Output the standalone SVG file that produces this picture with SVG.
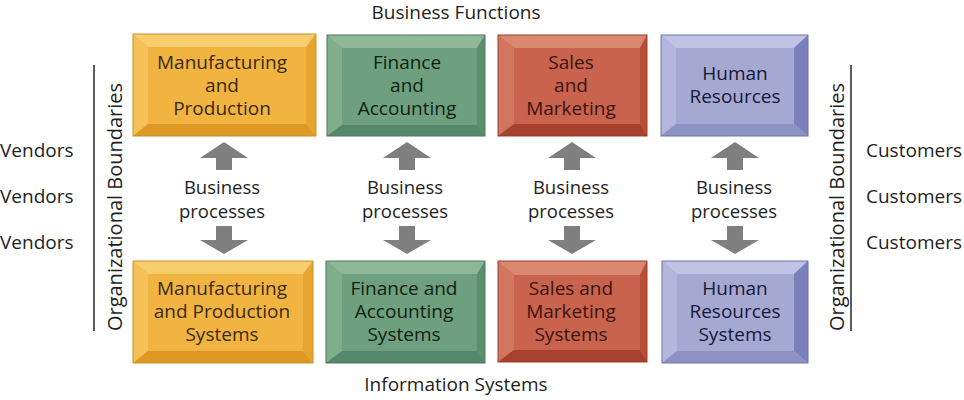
<svg xmlns="http://www.w3.org/2000/svg" width="964" height="400" viewBox="0 0 964 400">
<style>
text{font-family:"Open Sans","Noto Sans","DejaVu Sans",sans-serif;}
.lbl{font-size:19px;fill:#1e1e1e;}
.rot{font-size:20px;fill:#1e1e1e;}
.bx{font-size:19px;text-anchor:middle;}
.bp{font-size:18.5px;fill:#1e1e1e;text-anchor:middle;}
.arr{fill:#7f7f7f;}
.bline{stroke:#333;stroke-width:1.6;}
</style>
<rect width="964" height="400" fill="#ffffff"/>
<text class="lbl" x="456" y="19" text-anchor="middle">Business Functions</text>
<text class="lbl" x="456" y="391" text-anchor="middle">Information Systems</text>

<g id="left-boundary">
<line class="bline" x1="94" y1="65" x2="94" y2="331"/>
<text class="rot" transform="translate(122,207) rotate(-90)" text-anchor="middle">Organizational Boundaries</text>
<text class="lbl" x="0" y="157">Vendors</text>
<text class="lbl" x="0" y="203">Vendors</text>
<text class="lbl" x="0" y="249">Vendors</text>
</g>
<g id="right-boundary">
<line class="bline" x1="851" y1="65" x2="851" y2="331"/>
<text class="rot" transform="translate(844,207) rotate(-90)" text-anchor="middle">Organizational Boundaries</text>
<text class="lbl" x="866" y="157">Customers</text>
<text class="lbl" x="866" y="203">Customers</text>
<text class="lbl" x="866" y="249">Customers</text>
</g>

<!-- Top row -->
<g id="mfg">
<rect x="133" y="34" width="183" height="102" fill="#F2B440"/>
<polygon points="133,34 316,34 306,47 148,47" fill="#F8CD6E"/>
<polygon points="133,34 148,47 148,124 133,136" fill="#F5C158"/>
<polygon points="316,34 316,136 306,124 306,47" fill="#E6A530"/>
<polygon points="133,136 316,136 306,124 148,124" fill="#DE9826"/>
<rect x="133" y="34" width="183" height="102" fill="none" stroke="#C8922A" stroke-width="1"/>
<text class="bx" fill="#3a2a08"><tspan x="222" y="69">Manufacturing</tspan><tspan x="222" y="92">and</tspan><tspan x="222" y="115">Production</tspan></text>
</g>
<g id="fin">
<rect x="327" y="35" width="158" height="101" fill="#6E9F7E"/>
<polygon points="327,35 485,35 477,48 342,48" fill="#8EB898"/>
<polygon points="327,35 342,48 342,125 327,136" fill="#80AE8B"/>
<polygon points="485,35 485,136 477,125 477,48" fill="#5C8F6E"/>
<polygon points="327,136 485,136 477,125 342,125" fill="#55886A"/>
<rect x="327" y="35" width="158" height="101" fill="none" stroke="#4C7A5C" stroke-width="1"/>
<text class="bx" fill="#0f1f12"><tspan x="407" y="69">Finance</tspan><tspan x="407" y="92">and</tspan><tspan x="407" y="115">Accounting</tspan></text>
</g>
<g id="sales">
<rect x="498" y="35" width="149" height="101" fill="#C9634D"/>
<polygon points="498,35 647,35 640,48 514,48" fill="#DA876F"/>
<polygon points="498,35 514,48 514,124 498,136" fill="#D27561"/>
<polygon points="647,35 647,136 640,124 640,48" fill="#B84E3A"/>
<polygon points="498,136 647,136 640,124 514,124" fill="#A8402E"/>
<rect x="498" y="35" width="149" height="101" fill="none" stroke="#9A3F2E" stroke-width="1"/>
<text class="bx" fill="#3a1410"><tspan x="571" y="69">Sales</tspan><tspan x="571" y="92">and</tspan><tspan x="571" y="115">Marketing</tspan></text>
</g>
<g id="hr">
<rect x="661" y="35" width="147" height="101" fill="#A5A9D2"/>
<polygon points="661,35 808,35 794,48 676,48" fill="#C0C3E3"/>
<polygon points="661,35 676,48 676,124 661,136" fill="#B4B7DB"/>
<polygon points="808,35 808,136 794,124 794,48" fill="#7B80BD"/>
<polygon points="661,136 808,136 794,124 676,124" fill="#8D92C4"/>
<rect x="661" y="35" width="147" height="101" fill="none" stroke="#6F74A8" stroke-width="1"/>
<text class="bx" fill="#161a38"><tspan x="735" y="80">Human</tspan><tspan x="735" y="103">Resources</tspan></text>
</g>

<!-- Bottom row -->
<g id="mfg-sys">
<rect x="133" y="261" width="180" height="102" fill="#F2B440"/>
<polygon points="133,261 313,261 303,274 148,274" fill="#F8CD6E"/>
<polygon points="133,261 148,274 148,351 133,363" fill="#F5C158"/>
<polygon points="313,261 313,363 303,351 303,274" fill="#E6A530"/>
<polygon points="133,363 313,363 303,351 148,351" fill="#DE9826"/>
<rect x="133" y="261" width="180" height="102" fill="none" stroke="#C8922A" stroke-width="1"/>
<text class="bx" fill="#3a2a08"><tspan x="222" y="295">Manufacturing</tspan><tspan x="222" y="318">and Production</tspan><tspan x="222" y="341">Systems</tspan></text>
</g>
<g id="fin-sys">
<rect x="326" y="261" width="159" height="102" fill="#6E9F7E"/>
<polygon points="326,261 485,261 477,274 342,274" fill="#8EB898"/>
<polygon points="326,261 342,274 342,351 326,363" fill="#80AE8B"/>
<polygon points="485,261 485,363 477,351 477,274" fill="#5C8F6E"/>
<polygon points="326,363 485,363 477,351 342,351" fill="#55886A"/>
<rect x="326" y="261" width="159" height="102" fill="none" stroke="#4C7A5C" stroke-width="1"/>
<text class="bx" fill="#0f1f12"><tspan x="404" y="295">Finance and</tspan><tspan x="404" y="318">Accounting</tspan><tspan x="404" y="341">Systems</tspan></text>
</g>
<g id="sales-sys">
<rect x="498" y="261" width="149" height="101" fill="#C9634D"/>
<polygon points="498,261 647,261 640,275 514,275" fill="#DA876F"/>
<polygon points="498,261 514,275 514,350 498,362" fill="#D27561"/>
<polygon points="647,261 647,362 640,350 640,275" fill="#B84E3A"/>
<polygon points="498,362 647,362 640,350 514,350" fill="#A8402E"/>
<rect x="498" y="261" width="149" height="101" fill="none" stroke="#9A3F2E" stroke-width="1"/>
<text class="bx" fill="#3a1410"><tspan x="571" y="295">Sales and</tspan><tspan x="571" y="318">Marketing</tspan><tspan x="571" y="341">Systems</tspan></text>
</g>
<g id="hr-sys">
<rect x="662" y="261" width="146" height="102" fill="#A5A9D2"/>
<polygon points="662,261 808,261 794,274 677,274" fill="#C0C3E3"/>
<polygon points="662,261 677,274 677,351 662,363" fill="#B4B7DB"/>
<polygon points="808,261 808,363 794,351 794,274" fill="#7B80BD"/>
<polygon points="662,363 808,363 794,351 677,351" fill="#8D92C4"/>
<rect x="662" y="261" width="146" height="102" fill="none" stroke="#6F74A8" stroke-width="1"/>
<text class="bx" fill="#161a38"><tspan x="735" y="295">Human</tspan><tspan x="735" y="318">Resources</tspan><tspan x="735" y="341">Systems</tspan></text>
</g>

<g id="connectors">
<g transform="translate(224,0)">
<polygon class="arr" points="0,142 24,158 8,158 8,170 -8,170 -8,158 -24,158"/>
<polygon class="arr" points="-8,226 8,226 8,240 24,240 0,254 -24,240 -8,240"/>
</g>
<g transform="translate(407,0)">
<polygon class="arr" points="0,142 24,158 8,158 8,170 -8,170 -8,158 -24,158"/>
<polygon class="arr" points="-8,226 8,226 8,240 24,240 0,254 -24,240 -8,240"/>
</g>
<g transform="translate(572,0)">
<polygon class="arr" points="0,142 24,158 8,158 8,170 -8,170 -8,158 -24,158"/>
<polygon class="arr" points="-8,226 8,226 8,240 24,240 0,254 -24,240 -8,240"/>
</g>
<g transform="translate(735,0)">
<polygon class="arr" points="0,142 24,158 8,158 8,170 -8,170 -8,158 -24,158"/>
<polygon class="arr" points="-8,226 8,226 8,240 24,240 0,254 -24,240 -8,240"/>
</g>
</g>

<g id="process-labels">
<text class="bp" x="222" y="194">Business</text><text class="bp" x="222" y="218">processes</text>
<text class="bp" x="405" y="194">Business</text><text class="bp" x="405" y="218">processes</text>
<text class="bp" x="571" y="194">Business</text><text class="bp" x="571" y="218">processes</text>
<text class="bp" x="734" y="194">Business</text><text class="bp" x="734" y="218">processes</text>
</g>
</svg>
